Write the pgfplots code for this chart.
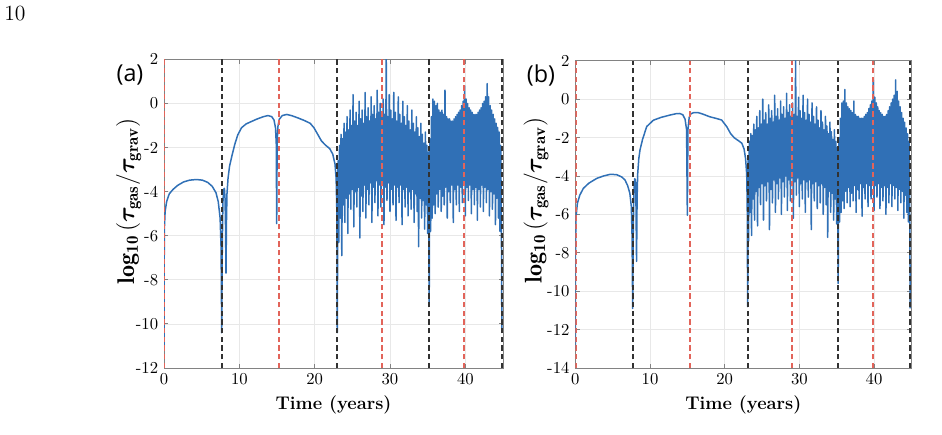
\documentclass[border=0pt]{standalone}
\usepackage{pgfplots}
\pgfplotsset{compat=1.18}
\usepackage{bm}
\usepackage{fontspec}
\newfontfamily\panelfont{Open Sans}

\definecolor{curve}{RGB}{48,112,182}
\definecolor{eventred}{RGB}{226,100,90}
\definecolor{eventblack}{RGB}{50,50,50}
\definecolor{framegray}{RGB}{130,130,130}

% vertical event marker: colour, time, lower axis limit
\newcommand{\eventline}[3]{%
  \addplot[#1, line width=1.0pt, dash pattern=on 3.2pt off 2pt, forget plot]
    coordinates {(#2,#3) (#2,2)};}

\pgfplotsset{
  panel/.style={
    scale only axis,
    xmin=0, xmax=45, ymax=2,
    xtick={0,10,20,30,40},
    grid=major,
    major grid style={line width=0.4pt, draw=black!9},
    axis line style={draw=framegray, line width=0.5pt},
    tick style={draw=framegray, line width=0.5pt},
    tick align=inside,
    major tick length=2.5pt,
    ticklabel style={font=\fontsize{10}{11}\selectfont},
    xlabel={\fontsize{11}{13}\selectfont\bfseries Time (years)},
    ylabel={\fontsize{14.5}{16}\selectfont
      $\mathbf{log_{10}}\left(\bm{\tau}_{\mathbf{gas}}\mathbf{/}\bm{\tau}_{\mathbf{grav}}\right)$},
    clip=true,
  },
  ratio/.style={curve, line width=0.9pt, line join=round},
}

\begin{document}
\begin{tikzpicture}
\useasboundingbox (0,0) rectangle (565.2pt,260.4pt);
\node at (9pt,252pt) {\fontsize{13}{15}\selectfont 10};

% ---------------- panel (a) ----------------
\begin{axis}[panel,
  at={(98.4pt,39.6pt)}, anchor=south west,
  width=203.4pt, height=185.2pt,
  ymin=-12,
  ytick={-12,-10,-8,-6,-4,-2,0,2},
  yticklabels={-12,-10,-8,-6,-4,-2,0,2},
  ylabel style={at={(axis description cs:-0.104,0.54)}, anchor=center},
]
\addplot[ratio] coordinates {
(0,-11.0) (0.02,-7.5) (0.06,-5.6) (0.15,-4.9) (0.35,-4.45) (0.7,-4.1) (1.2,-3.9)
(1.8,-3.72) (2.6,-3.56) (3.4,-3.48) (4.3,-3.45) (5.1,-3.48) (5.8,-3.58) (6.4,-3.76)
(6.9,-4.05) (7.2,-4.45) (7.45,-5.2) (7.58,-6.6) (7.66,-10.4) (7.74,-6.4) (7.82,-4.5)
(7.92,-3.9) (8.02,-3.85) (8.1,-4.3) (8.17,-5.6) (8.23,-7.7) (8.29,-5.4) (8.36,-4.1)
(8.5,-3.4) (8.7,-2.85) (9.0,-2.4) (9.4,-1.85) (9.8,-1.42) (10.3,-1.1) (10.9,-0.93)
(11.6,-0.82) (12.4,-0.7) (13.2,-0.6) (13.8,-0.55) (14.3,-0.6) (14.6,-0.75) (14.8,-1.1)
(14.9,-1.8) (14.96,-5.45) (15.02,-1.8) (15.12,-1.05) (15.3,-0.72) (15.7,-0.55)
(16.3,-0.5) (17.0,-0.56) (17.8,-0.66) (18.6,-0.77) (19.4,-0.9) (19.9,-1.1) (20.4,-1.4)
(20.9,-1.7) (21.4,-1.88) (22.0,-2.05) (22.4,-2.3) (22.7,-2.75) (22.85,-3.4)
(22.95,-5.0) (23.0,-10.4)
(23.1,-2.6) (23.2,-6.3) (23.3,-1.9) (23.4,-5.2) (23.5,-1.4) (23.6,-6.9) (23.7,-1.6) (23.8,-4.6)
(23.9,-0.9) (24.0,-5.4) (24.1,-1.3) (24.2,-4.3) (24.3,-0.6) (24.4,-5.9) (24.5,-1.2) (24.6,-4.1)
(24.7,-0.3) (24.8,-4.8) (24.9,-1.0) (25.0,-3.9) (25.1,0.4) (25.2,-5.6) (25.3,-0.8) (25.4,-4.0)
(25.5,-0.4) (25.6,-4.7) (25.7,-1.0) (25.8,-3.8) (25.9,0.1) (26.0,-6.1) (26.1,-0.7) (26.2,-4.2)
(26.3,-0.3) (26.4,-4.9) (26.5,-0.9) (26.6,-3.7) (26.7,0.5) (26.8,-5.2) (26.9,-0.6) (27.0,-3.9)
(27.1,-0.2) (27.2,-4.6) (27.3,-0.8) (27.4,-3.6) (27.5,0.3) (27.6,-5.4) (27.7,-0.5) (27.8,-3.8)
(27.9,-0.1) (28.0,-4.5) (28.1,-0.7) (28.2,-3.5) (28.3,0.6) (28.4,-5.1) (28.5,-0.4) (28.6,-3.7)
(28.7,0.0) (28.8,-4.7) (28.9,-0.6) (29.0,-3.6) (29.1,0.2) (29.2,-5.5) (29.3,-0.5) (29.4,-3.8)
(29.5,2.0) (29.6,-4.4) (29.7,-0.6) (29.8,-3.6) (29.9,0.4) (30.0,-4.9) (30.1,-0.3) (30.2,-3.9)
(30.3,-0.7) (30.4,-4.6) (30.5,0.5) (30.6,-3.7) (30.7,-0.4) (30.8,-5.3) (30.9,-0.8) (31.0,-3.8)
(31.1,0.3) (31.2,-4.5) (31.3,-0.5) (31.4,-3.7) (31.5,-0.9) (31.6,-5.5) (31.7,0.1) (31.8,-3.9)
(31.9,-0.6) (32.0,-4.7) (32.1,-1.0) (32.2,-3.8) (32.3,-0.1) (32.4,-5.1) (32.5,-0.8) (32.6,-4.0)
(32.7,-1.2) (32.8,-4.8) (32.9,-0.3) (33.0,-3.9) (33.1,-0.9) (33.2,-5.4) (33.3,-1.3) (33.4,-4.1)
(33.5,-0.6) (33.6,-4.9) (33.7,-1.1) (33.8,-6.5) (33.9,-1.5) (34.0,-4.3) (34.1,-0.9) (34.2,-5.2)
(34.3,-1.4) (34.4,-4.4) (34.5,-1.8) (34.6,-5.7) (34.7,-1.3) (34.8,-4.6) (34.9,-1.9) (35.0,-5.9)
(35.1,-2.2) (35.2,-9.1)
(35.3,-1.6) (35.4,-5.8) (35.5,-0.6) (35.6,-5.2) (35.7,0.2) (35.8,-4.6) (35.9,0.1) (36.0,-5.0)
(36.1,-0.1) (36.2,-4.1) (36.3,0.0) (36.4,-4.7) (36.5,-0.3) (36.6,-3.9) (36.7,-0.4) (36.8,-4.9)
(36.9,-0.3) (37.0,-4.2) (37.1,-0.5) (37.2,-4.6) (37.3,0.6) (37.4,-3.8) (37.5,-0.6) (37.6,-5.2)
(37.7,-0.7) (37.8,-4.0) (37.9,-0.7) (38.0,-4.5) (38.1,-0.8) (38.2,-3.7) (38.3,-0.8) (38.4,-5.4)
(38.5,-0.7) (38.6,-3.9) (38.7,-0.6) (38.8,-4.6) (38.9,-0.5) (39.0,-3.7) (39.1,-0.4) (39.2,-4.9)
(39.3,-0.3) (39.4,-3.8) (39.5,-0.1) (39.6,-4.5) (39.7,0.1) (39.8,-3.6) (39.9,0.8) (40.0,-5.1)
(40.1,0.2) (40.2,-3.8) (40.3,0.0) (40.4,-4.4) (40.5,-0.2) (40.6,-3.7) (40.7,-0.3) (40.8,-5.0)
(40.9,-0.4) (41.0,-3.9) (41.1,-0.5) (41.2,-4.6) (41.3,-0.5) (41.4,-3.8) (41.5,-0.5) (41.6,-5.3)
(41.7,-0.4) (41.8,-3.9) (41.9,-0.3) (42.0,-4.7) (42.1,-0.2) (42.2,-3.7) (42.3,0.0) (42.4,-4.9)
(42.5,0.1) (42.6,-3.8) (42.7,0.3) (42.8,-4.5) (42.9,0.9) (43.0,-3.9) (43.1,0.3) (43.2,-5.1)
(43.3,-0.1) (43.4,-4.0) (43.5,-0.3) (43.6,-4.8) (43.7,-0.5) (43.8,-4.1) (43.9,-0.7) (44.0,-5.5)
(44.1,-0.9) (44.2,-4.3) (44.3,-1.1) (44.4,-5.2) (44.5,-1.3) (44.6,-5.8) (44.7,-1.9) (44.8,-6.5)
(44.85,-10.4)
};
\eventline{eventred}{0.05}{-12}
\eventline{eventblack}{7.66}{-12}
\eventline{eventred}{15.27}{-12}
\eventline{eventblack}{23.0}{-12}
\eventline{eventred}{28.95}{-12}
\eventline{eventblack}{35.15}{-12}
\eventline{eventred}{39.85}{-12}
\eventline{eventblack}{44.85}{-12}
\end{axis}
\node[font=\panelfont\fontsize{14}{16}\selectfont] at (78pt,215.4pt) {(a)};

% ---------------- panel (b) ----------------
\begin{axis}[panel,
  at={(345.2pt,39.6pt)}, anchor=south west,
  width=201.6pt, height=184.4pt,
  ymin=-14,
  ytick={-14,-12,-10,-8,-6,-4,-2,0,2},
  yticklabels={-14,-12,-10,-8,-6,-4,-2,0,2},
  ylabel style={at={(axis description cs:-0.117,0.545)}, anchor=center},
]
\addplot[ratio] coordinates {
(0,-13.0) (0.02,-8.0) (0.08,-6.2) (0.27,-5.43) (0.6,-5.0) (1.07,-4.65) (1.8,-4.38)
(2.86,-4.13) (3.8,-4.0) (4.65,-3.92) (5.5,-3.93) (6.2,-4.05) (6.65,-4.21) (7.0,-4.5)
(7.3,-4.9) (7.5,-5.6) (7.6,-7.2) (7.68,-10.9) (7.76,-6.8) (7.85,-4.8) (7.95,-4.15)
(8.05,-4.2) (8.12,-5.4) (8.2,-8.45) (8.27,-5.2) (8.35,-3.9) (8.5,-3.1) (8.66,-2.65)
(9.0,-2.1) (9.56,-1.43) (10.45,-1.1) (11.5,-0.95) (12.7,-0.83) (13.5,-0.76) (14.0,-0.75)
(14.4,-0.82) (14.7,-1.05) (14.9,-1.6) (15.0,-6.05) (15.08,-1.6) (15.25,-0.95) (15.5,-0.76)
(15.9,-0.7) (16.5,-0.71) (17.2,-0.8) (18.0,-0.92) (18.8,-1.0) (19.6,-1.09) (20.3,-1.45)
(20.8,-1.8) (21.3,-2.02) (21.9,-2.18) (22.3,-2.3) (22.6,-2.6) (22.8,-3.1) (22.95,-3.9)
(23.02,-5.5) (23.08,-10.8)
(23.15,-3.0) (23.2,-7.4) (23.3,-2.2) (23.4,-5.9) (23.5,-1.8) (23.6,-7.1) (23.7,-1.9) (23.8,-5.2)
(23.9,-1.3) (24.0,-6.3) (24.1,-1.6) (24.2,-4.8) (24.3,-0.9) (24.4,-6.6) (24.5,-1.5) (24.6,-4.6)
(24.7,-0.6) (24.8,-5.5) (24.9,-1.3) (25.0,-4.4) (25.1,0.0) (25.2,-6.3) (25.3,-1.1) (25.4,-4.5)
(25.5,-0.7) (25.6,-5.3) (25.7,-1.3) (25.8,-4.3) (25.9,-0.3) (26.0,-6.8) (26.1,-1.0) (26.2,-4.7)
(26.3,-0.6) (26.4,-5.4) (26.5,-1.2) (26.6,-4.2) (26.7,0.2) (26.8,-5.9) (26.9,-0.9) (27.0,-4.4)
(27.1,-0.5) (27.2,-5.2) (27.3,-1.1) (27.4,-4.1) (27.5,-0.1) (27.6,-6.0) (27.7,-0.8) (27.8,-4.3)
(27.9,-0.4) (28.0,-5.1) (28.1,-1.0) (28.2,-4.0) (28.3,0.3) (28.4,-5.8) (28.5,-0.7) (28.6,-4.2)
(28.7,-0.3) (28.8,-5.3) (28.9,-0.9) (29.0,-4.1) (29.1,-0.2) (29.2,-6.2) (29.3,-0.8) (29.4,-4.3)
(29.5,2.0) (29.6,-5.0) (29.7,-0.9) (29.8,-4.1) (29.9,0.1) (30.0,-5.6) (30.1,-0.6) (30.2,-4.4)
(30.3,-1.0) (30.4,-5.2) (30.5,0.2) (30.6,-4.2) (30.7,-0.7) (30.8,-5.9) (30.9,-1.1) (31.0,-4.3)
(31.1,0.0) (31.2,-5.1) (31.3,-0.8) (31.4,-4.2) (31.5,-1.2) (31.6,-6.8) (31.7,-0.2) (31.8,-4.4)
(31.9,-0.9) (32.0,-5.3) (32.1,-1.3) (32.2,-4.3) (32.3,-0.4) (32.4,-5.7) (32.5,-1.1) (32.6,-4.5)
(32.7,-1.5) (32.8,-5.4) (32.9,-0.6) (33.0,-4.4) (33.1,-1.2) (33.2,-6.0) (33.3,-1.6) (33.4,-4.6)
(33.5,-0.9) (33.6,-5.5) (33.7,-1.4) (33.8,-7.2) (33.9,-1.8) (34.0,-4.8) (34.1,-1.2) (34.2,-5.9)
(34.3,-1.7) (34.4,-4.9) (34.5,-2.1) (34.6,-6.3) (34.7,-1.6) (34.8,-5.2) (34.9,-2.2) (35.0,-6.5)
(35.1,-2.5) (35.2,-9.6)
(35.3,-2.0) (35.4,-6.4) (35.5,-1.0) (35.6,-5.9) (35.7,-0.2) (35.8,-5.3) (35.9,-0.1) (36.0,-5.7)
(36.1,0.5) (36.2,-4.8) (36.3,-0.2) (36.4,-5.4) (36.5,-0.4) (36.6,-4.6) (36.7,-0.5) (36.8,-5.6)
(36.9,-0.6) (37.0,-4.9) (37.1,-0.7) (37.2,-5.3) (37.3,-0.1) (37.4,-4.5) (37.5,-0.8) (37.6,-5.9)
(37.7,-0.9) (37.8,-4.7) (37.9,-0.9) (38.0,-5.2) (38.1,-1.0) (38.2,-4.4) (38.3,-1.0) (38.4,-6.1)
(38.5,-1.0) (38.6,-4.6) (38.7,-0.9) (38.8,-5.2) (38.9,-0.8) (39.0,-4.4) (39.1,-0.7) (39.2,-5.6)
(39.3,-0.5) (39.4,-4.5) (39.5,-0.3) (39.6,-5.2) (39.7,-0.1) (39.8,-4.3) (39.9,1.0) (40.0,-5.8)
(40.1,0.1) (40.2,-4.5) (40.3,-0.2) (40.4,-5.1) (40.5,-0.4) (40.6,-4.4) (40.7,-0.6) (40.8,-5.7)
(40.9,-0.7) (41.0,-4.6) (41.1,-0.8) (41.2,-5.3) (41.3,-0.9) (41.4,-4.5) (41.5,-0.9) (41.6,-6.0)
(41.7,-0.8) (41.8,-4.6) (41.9,-0.6) (42.0,-5.4) (42.1,-0.4) (42.2,-4.4) (42.3,-0.2) (42.4,-5.6)
(42.5,0.0) (42.6,-4.5) (42.7,0.2) (42.8,-5.2) (42.9,1.0) (43.0,-4.6) (43.1,0.4) (43.2,-5.8)
(43.3,-0.1) (43.4,-4.7) (43.5,-0.4) (43.6,-5.4) (43.7,-0.7) (43.8,-4.8) (43.9,-1.0) (44.0,-6.2)
(44.1,-1.2) (44.2,-5.0) (44.3,-1.5) (44.4,-5.9) (44.5,-1.8) (44.6,-6.4) (44.7,-2.2) (44.8,-7.0)
(44.85,-10.9)
};
\eventline{eventred}{0.05}{-14}
\eventline{eventblack}{7.68}{-14}
\eventline{eventred}{15.35}{-14}
\eventline{eventblack}{23.08}{-14}
\eventline{eventred}{29.0}{-14}
\eventline{eventblack}{35.2}{-14}
\eventline{eventred}{39.9}{-14}
\eventline{eventblack}{44.85}{-14}
\end{axis}
\node[font=\panelfont\fontsize{14}{16}\selectfont] at (324.6pt,215.4pt) {(b)};
\end{tikzpicture}
\end{document}
